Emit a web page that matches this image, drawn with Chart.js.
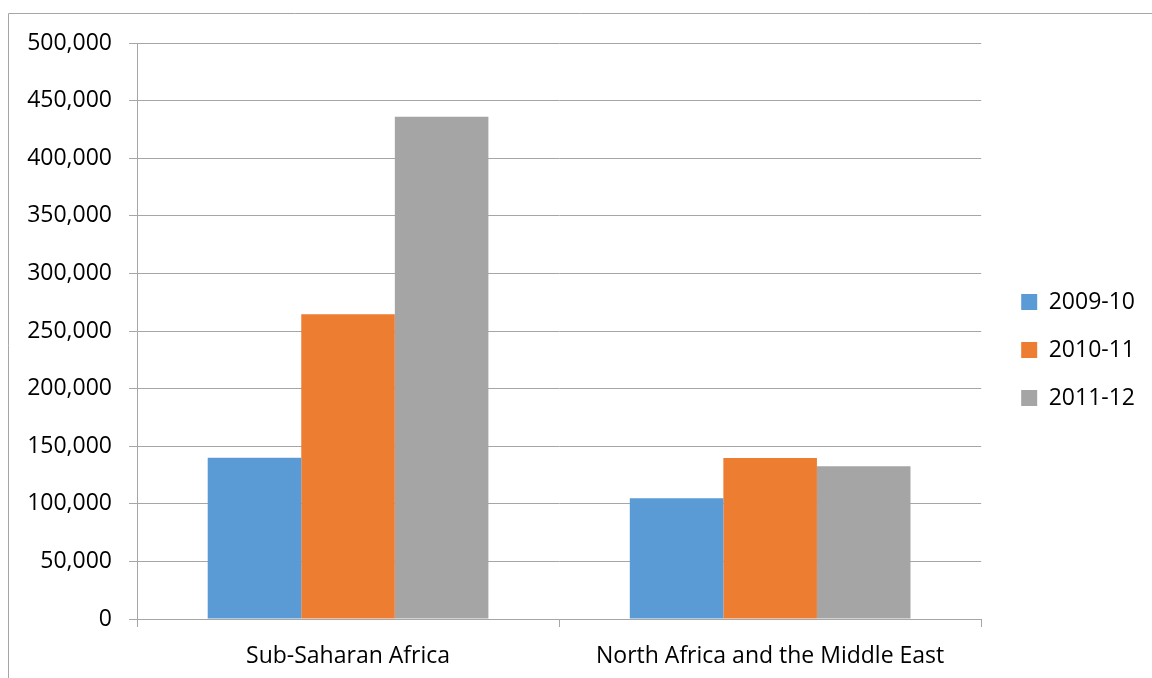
<!DOCTYPE html>
<html>
<head>
<meta charset="utf-8">
<script src="https://cdn.jsdelivr.net/npm/chart.js@4.4.1/dist/chart.umd.min.js"></script>
<style>
  html, body { margin: 0; padding: 0; background: #ffffff; }
  #wrap { width: 1152px; height: 678px; }
</style>
</head>
<body>
<div id="wrap"><canvas id="chart" width="1152" height="678"></canvas></div>
<script>
// Regions on the category axis
const categories = ['Sub-Saharan Africa', 'North Africa and the Middle East'];

// Series, one value per region
const series2009 = [140000, 104800];
const series2010 = [264500, 139800];
const series2011 = [436000, 132500];

const seriesLabels = ['2009-10', '2010-11', '2011-12'];
const seriesColors = ['#5B9BD5', '#ED7D31', '#A5A5A5'];

// Value axis range
const yMin = 0;
const yMax = 500000;
const yStep = 50000;

const FONT = 'Open Sans';
const LINE = '#a6a6a6';

// Thin frame along the top and left edges of the drawing
const framePlugin = {
  id: 'frame',
  beforeDraw(chart) {
    const ctx = chart.ctx;
    ctx.save();
    ctx.strokeStyle = LINE;
    ctx.lineWidth = 1;
    ctx.beginPath();
    ctx.moveTo(8.5, chart.height);
    ctx.lineTo(8.5, 13.5);
    ctx.lineTo(chart.width, 13.5);
    ctx.stroke();
    ctx.restore();
  }
};

const datasets = [series2009, series2010, series2011].map((values, i) => ({
  label: seriesLabels[i],
  data: values,
  backgroundColor: seriesColors[i],
  borderWidth: 0,
  categoryPercentage: 0.665,
  barPercentage: 1.0
}));

// blank spacer axis (no ticks, no lines) used only to reserve room
const spacer = (position, size) => ({
  type: 'linear',
  position,
  display: true,
  grid: { display: false, drawTicks: false },
  border: { display: false },
  ticks: { display: false },
  afterFit(scale) {
    if (position === 'top' || position === 'bottom') scale.height = size;
    else scale.width = size;
  }
});

new Chart(document.getElementById('chart'), {
  type: 'bar',
  data: { labels: categories, datasets },
  options: {
    responsive: false,
    animation: false,
    devicePixelRatio: 1,
    layout: { padding: { left: 0, top: 22, right: 7, bottom: 0 } },
    plugins: {
      tooltip: { enabled: false },
      legend: {
        position: 'right',
        labels: {
          boxWidth: 16,
          boxHeight: 16,
          padding: 25,
          color: '#000000',
          font: { family: FONT, size: 23 }
        }
      }
    },
    scales: {
      x: {
        grid: {
          display: true,
          drawOnChartArea: false,
          drawTicks: true,
          tickLength: 8,
          color: LINE,
          offset: true
        },
        border: { display: true, color: LINE, width: 1 },
        ticks: {
          color: '#000000',
          font: { family: FONT, size: 23 },
          padding: 16,
          maxRotation: 0,
          autoSkip: false
        },
        afterFit(scale) { scale.height = 59; }
      },
      y: {
        min: yMin,
        max: yMax,
        grid: { color: LINE, tickLength: 8, drawTicks: true },
        border: { display: true, color: LINE, width: 1 },
        ticks: {
          stepSize: yStep,
          color: '#000000',
          font: { family: FONT, size: 23 },
          padding: 17,
          callback: (v) => Number(v).toLocaleString('en-US')
        },
        afterFit(scale) { scale.width = 137; }
      },
      // room above the plot and between the plot and the legend
      topGap: spacer('top', 21),
      rightGap: spacer('right', 15)
    }
  },
  plugins: [framePlugin]
});
</script>
</body>
</html>
